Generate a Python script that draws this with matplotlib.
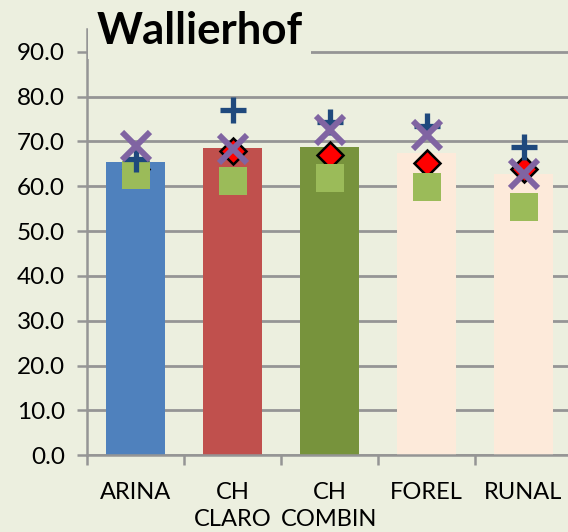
import numpy as np
import matplotlib.pyplot as plt

# values
categories = ["ARINA", "CH\nCLARO", "CH\nCOMBIN", "FOREL", "RUNAL"]
bar_values = [65.4, 68.5, 68.8, 67.3, 62.8]
diamond_values = [63.8, 67.8, 67.0, 65.1, 63.8]
square_values = [62.6, 61.1, 61.8, 59.9, 55.3]
plus_values = [66.0, 77.0, 74.4, 73.5, 68.8]
cross_values = [69.0, 68.2, 72.5, 71.4, 62.7]
y_ticks = np.arange(0, 91, 10)

bar_colors = ["#4F81BD", "#C0504D", "#77933C", "#FDEADA", "#FDEADA"]
bg = "#ECEFDF"
grid_gray = "#959595"

plt.rcParams['font.family'] = ['Lato', 'DejaVu Sans']

fig = plt.figure(figsize=(5.68, 5.32), dpi=100, facecolor=bg)
ax = fig.add_axes([0.1532, 0.1442, 0.8539, 0.8008])
ax.set_facecolor(bg)

x = np.arange(len(categories))
ax.bar(x, bar_values, width=0.6, color=bar_colors, zorder=2)

# marker series, drawn in the same order as the original
ax.plot(x, diamond_values, linestyle='none', marker='D', markersize=13.5,
        markerfacecolor='#FF0000', markeredgecolor='black', markeredgewidth=1.8, zorder=3)
ax.plot(x, square_values, linestyle='none', marker='s', markersize=19.5,
        markerfacecolor='#9BBB59', markeredgecolor='#9BBB59', markeredgewidth=0, zorder=4)
ax.plot(x, plus_values, linestyle='none', marker='+', markersize=19,
        markeredgecolor='#1F497D', markeredgewidth=3.8, zorder=5)
ax.plot(x, cross_values, linestyle='none', marker='x', markersize=20,
        markeredgecolor='#8064A2', markeredgewidth=4.3, zorder=6)

ax.set_xlim(-0.5, len(categories) - 0.5)
ax.set_ylim(0, 95)
ax.set_yticks(y_ticks)
ax.set_yticklabels([f"{v:.1f}" for v in y_ticks], fontsize=17.5)
ax.yaxis.grid(True, color=grid_gray, linewidth=2, zorder=1)
ax.set_axisbelow(True)

ax.set_xticks(x)
ax.set_xticklabels(categories, fontsize=17, linespacing=1.4, va='top')
ax.set_xticks(np.arange(-0.5, len(categories), 1.0), minor=True)
ax.tick_params(axis='x', which='major', length=0, pad=19)
ax.tick_params(axis='x', which='minor', length=7, width=1.8, color=grid_gray, direction='out')
ax.tick_params(axis='y', length=7, width=1.8, color=grid_gray, direction='out', pad=9)

for side in ['top', 'right']:
    ax.spines[side].set_visible(False)
for side in ['left', 'bottom']:
    ax.spines[side].set_color(grid_gray)
    ax.spines[side].set_linewidth(1.8)

fig.text(0.351, 0.918, "Wallierhof", fontsize=31.5, fontweight='bold',
         ha='center', va='baseline', color='black',
         bbox=dict(facecolor=bg, edgecolor='none', pad=6))

fig.savefig("out.png", dpi=100, facecolor=bg)
